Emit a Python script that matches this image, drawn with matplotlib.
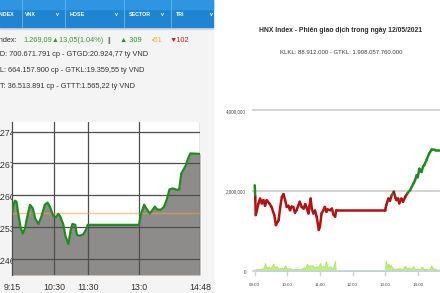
import matplotlib
matplotlib.use('Agg')
import matplotlib.pyplot as plt
from matplotlib import font_manager
from matplotlib.patches import Rectangle
from matplotlib.collections import LineCollection
import numpy as np

# ---- left chart: VN-Index intraday ----
vn_times = ["09:15", "09:17", "09:20", "09:23", "09:26", "09:30", "09:34", "09:38", "09:42", "09:47",
            "09:52", "09:56", "10:02", "10:07", "10:13", "10:18", "10:22", "10:28", "10:33", "10:37",
            "10:41", "10:46", "10:50", "10:55", "10:59", "11:02", "11:07", "11:10", "11:15", "11:21",
            "11:26", "11:29", "13:00", "13:03", "13:09", "13:13", "13:19", "13:24", "13:28", "13:32",
            "13:38", "13:44", "13:49", "13:54", "14:00", "14:07", "14:11", "14:15", "14:20", "14:23",
            "14:27", "14:31", "14:48"]
vn_vals = [1256.0, 1257.6, 1258.8, 1258.6, 1256.0, 1253.1, 1251.6, 1252.7, 1255.3, 1257.9,
           1257.1, 1254.9, 1253.7, 1255.3, 1257.9, 1258.4, 1257.5, 1255.5, 1255.2, 1255.9,
           1255.2, 1253.5, 1250.9, 1249.3, 1252.4, 1253.7, 1253.5, 1251.3, 1251.1, 1251.4,
           1252.4, 1253.5, 1253.5, 1255.7, 1257.9, 1257.1, 1256.0, 1256.8, 1257.5, 1256.9,
           1256.8, 1257.4, 1259.0, 1261.3, 1261.5, 1261.2, 1261.2, 1264.8, 1265.9, 1266.6,
           1268.1, 1269.2, 1269.09]
vn_ref = 1256.04
vn_yticks = [1246, 1253, 1260, 1267, 1274]
vn_xticks = ["09:15", "10:30", "11:30", "13:00", "14:48"]
vn_xlabels = ["9:15", "10:30", "11:30", "13:0", "14:48"]

# ---- right chart: HNX-Index intraday ----
hnx_times = ["09:00", "09:01", "09:02", "09:04", "09:07", "09:10", "09:13", "09:16", "09:19", "09:22",
             "09:27", "09:31", "09:36", "09:39", "09:42", "09:44", "09:47", "09:50", "09:53", "09:56",
             "09:59", "10:02", "10:05", "10:08", "10:11", "10:14", "10:17", "10:20", "10:23", "10:26",
             "10:30", "10:33", "10:35", "10:39", "10:41", "10:43", "10:45", "10:48", "10:51", "10:54",
             "10:58", "11:00", "11:03", "11:06", "11:09", "11:12", "11:14", "11:19", "11:22", "11:25",
             "11:28", "11:30", "13:00", "13:02", "13:06", "13:09", "13:12", "13:16", "13:19", "13:21",
             "13:24", "13:26", "13:30", "13:33", "13:37", "13:41", "13:46", "13:52", "13:55", "13:58",
             "14:00", "14:03", "14:07", "14:10", "14:12", "14:16", "14:21", "14:26", "14:32", "14:41"]
hnx_vals = [2.13, 1.84, 1.39, 1.51, 1.68, 1.80, 1.68, 1.76, 1.62, 1.76,
            1.68, 1.59, 1.39, 1.14, 1.22, 1.26, 1.59, 1.84, 1.91, 1.76,
            1.59, 1.62, 1.51, 1.60, 1.59, 1.45, 1.51, 1.62, 1.72, 1.60,
            1.55, 1.66, 1.59, 1.43, 1.62, 1.80, 1.55, 1.43, 1.50, 1.35,
            1.02, 1.10, 1.43, 1.50, 1.59, 1.47, 1.53, 1.51, 1.55, 1.40,
            1.35, 1.51, 1.51, 1.63, 1.80, 1.75, 1.88, 1.97, 1.82, 1.76,
            1.80, 1.68, 1.80, 1.72, 1.84, 1.93, 2.01, 2.17, 2.25, 2.38,
            2.33, 2.54, 2.46, 2.60, 2.63, 2.75, 2.92, 3.02, 3.01, 3.01]
hnx_ref = 1.90
vol_times = ["09:00", "09:12", "09:17", "09:19", "09:21", "09:25", "09:29", "09:34", "09:37", "09:40",
             "09:45", "09:50", "09:53", "09:56", "10:00", "10:05", "10:10", "10:17", "10:24", "10:30",
             "10:33", "10:36", "10:40", "10:45", "10:50", "10:54", "10:57", "11:00", "11:03", "11:06",
             "11:09", "11:11", "11:14", "11:19", "11:24", "11:28", "11:29", "13:00", "13:01", "13:04",
             "13:06", "13:08", "13:10", "13:14", "13:18", "13:22", "13:27", "13:32", "13:36", "13:40",
             "13:43", "13:46", "13:52", "13:55", "14:01", "14:04", "14:07", "14:12", "14:16", "14:21",
             "14:25", "14:29", "14:31", "14:36", "14:41"]
vol_vals = [40, 50, 90, 200, 80, 110, 60, 180, 90, 120,
            60, 80, 50, 140, 60, 70, 40, 50, 40, 90,
            70, 180, 120, 150, 90, 120, 80, 200, 90, 130,
            110, 250, 80, 120, 60, 260, 0, 0, 260, 100,
            190, 90, 150, 70, 40, 60, 70, 40, 130, 60,
            90, 50, 120, 40, 60, 30, 110, 40, 50, 30,
            140, 40, 60, 30, 40]
hnx_yticks = [0, 2000000, 4000000]
hnx_ylabels = ["0", "2,000,000", "4,000,000"]
hnx_xticks = ["09:00", "10:00", "11:00", "12:00", "13:00", "14:00"]

W, H = 440, 293
names = {f.name for f in font_manager.fontManager.ttflist}
NARROW = 'Liberation Sans Narrow' if 'Liberation Sans Narrow' in names else 'Liberation Sans'
FAM = [NARROW, 'DejaVu Sans']


def tmin(t, start):
    h, m = t.split(':')
    return int(h) * 60 + int(m) - start


fig = plt.figure(figsize=(W / 100, H / 100), dpi=100)
bg = fig.add_axes([0, 0, 1, 1])
bg.set_xlim(0, W)
bg.set_ylim(H, 0)
bg.axis('off')
rend = fig.canvas.get_renderer()


def twidth(s, **kw):
    t = bg.text(0, 0, s, **kw)
    w = t.get_window_extent(renderer=rend).width
    t.remove()
    return w


def fit(s, target, **kw):
    return 10 * target / twidth(s, fontsize=10, **kw)


# panels
bg.add_patch(Rectangle((0, 0), 213, H, color='#f4f4f4', zorder=0))
bg.add_patch(Rectangle((0, 27), 213, 2, color='#d9d9d9', zorder=1))
bg.add_patch(Rectangle((0, 0), 213, 27, color='#1f84d2', zorder=1))
bg.add_patch(Rectangle((0, 0), 213, 9, color='#2f95e0', zorder=1))
for sx in [22, 65, 124, 171]:
    bg.plot([sx, sx], [0, 27], color='#5aaee8', lw=0.8, zorder=2)

tab = dict(fontsize=fit("HOSE", 15, family=FAM, weight='bold'), family=FAM, weight='bold',
           color='white', va='center', ha='left', zorder=3)
bg.text(-twidth("VNI", **{k: tab[k] for k in ('fontsize', 'family', 'weight')}), 14, "VNINDEX", **tab)
bg.text(25, 14, "VNX", **tab)
bg.text(56, 14, "v", **tab)
bg.text(70, 14, "HOSE", **tab)
bg.text(115, 14, "v", **tab)
bg.text(129, 14, "SECTOR", **tab)
bg.text(161, 14, "v", **tab)
bg.text(176, 14, "TRI", **tab)
bg.text(210, 14, "v", **tab)

# info lines
fs = fit("D: 700.671.791 cp - GTGD:20.924,77 tỷ VND", 148, family=FAM)
info = [("KLG", "KLGD: 700.671.791 cp - GTGD:20.924,77 tỷ VND", 55),
        ("KLK", "KLKL: 664.157.900 cp - GTKL:19.359,55 tỷ VND", 71),
        ("KLT", "KLTT: 36.513.891 cp - GTTT:1.565,22 tỷ VND", 87)]
for pre, s, y in info:
    bg.text(-twidth(pre, fontsize=fs, family=FAM), y, s, fontsize=fs, family=FAM,
            color='#333333', va='center', zorder=3)
runs = [("VN-Index:", None, '#333333'),
        ("1.269,09▲13,05(1.04%)", 23, '#3c9a2c'),
        ("||", 107, '#555555'),
        ("▲ 309", 120, '#1f9a1f'),
        ("▪51", 152, '#efb030'),
        ("▼102", 170, '#e01b1b')]
for s, x, c in runs:
    if x is None:
        x = -twidth("VN-I", fontsize=fs, family=FAM)
    bg.text(x, 40, s, fontsize=fs, family=FAM, color=c, va='center', zorder=3)

# ---- left chart ----
ax1 = fig.add_axes([12 / W, 1 - 275 / H, 188 / W, (275 - 122) / H])
ax1.set_facecolor('white')
t1 = [tmin(t, 555) for t in vn_times]
ylo, yhi = 1242.48, 1276.1
ax1.set_xlim(0, 333)
ax1.set_ylim(ylo, yhi)
ax1.fill_between(t1, vn_vals, ylo, color='#8e8c8a', lw=0, zorder=1)
for v in vn_yticks:
    ax1.axhline(v, color='#4d4d4d', lw=0.9, zorder=2)
for t in vn_xticks[1:]:
    ax1.axvline(tmin(t, 555), color='#4d4d4d', lw=0.9, zorder=2)
ax1.axhline(vn_ref, color='#f0a040', alpha=0.6, lw=1.0, zorder=3)
ax1.plot(t1, vn_vals, color='#1e8c1e', lw=1.6, zorder=4, solid_joinstyle='round')
for s in ['top', 'right', 'bottom']:
    ax1.spines[s].set_visible(False)
ax1.spines['left'].set_color('#4d4d4d')
ax1.spines['left'].set_linewidth(0.9)
ax1.set_xticks([])
ax1.set_yticks([])

tfs = fit("14:48", 22, family=['Liberation Sans', 'DejaVu Sans'])
tk = dict(fontsize=tfs, family=['Liberation Sans', 'DejaVu Sans'], color='#333333')
for v in vn_yticks:
    ypx = 259 - (v - 1246) * 4.546
    s = str(v)
    bg.text(-twidth(s[0], **tk), ypx + 2, s, va='center', ha='left', zorder=5, **tk)
for t, lab in zip(vn_xticks, vn_xlabels):
    xpx = 12 + tmin(t, 555) * 188 / 333
    bg.text(xpx, 287, lab, va='center', ha='center', zorder=5, **tk)

# ---- right chart ----
bg.text(341, 30, "HNX Index - Phiên giao dịch trong ngày 12/05/2021",
        fontsize=fit("HNX Index - Phiên giao dịch trong ngày 12/05/2021", 162, family=FAM, weight='bold'),
        family=FAM, weight='bold', color='#2b2b2b', ha='center', va='center')
bg.text(341, 53, "KLKL: 88.912.000 - GTKL: 1.908.057.760.000",
        fontsize=fit("KLKL: 88.912.000 - GTKL: 1.908.057.760.000", 123, family=FAM),
        family=FAM, color='#3a3a3a', ha='center', va='center')

ax2 = fig.add_axes([253 / W, 1 - 271 / H, (W - 253) / W, (271 - 110) / H])
ax2.set_xlim(-1.7 / 32.6 * 60, 341)
ax2.set_ylim(0, 4000000)
ax2.axis('off')
for v in hnx_yticks[1:]:
    ax2.axhline(v, color='#cccccc', lw=1.2, zorder=1, clip_on=False)
tv = [tmin(t, 540) for t in vol_times]
vv = [v * 1000 for v in vol_vals]
ax2.fill_between(tv, vv, 0, color='#bdf27e', edgecolor='#a6e860', lw=0.6, zorder=2)
ax2.axhline(0, color='#c5d2e2', lw=1.2, zorder=3, clip_on=False)

th = np.array([tmin(t, 540) for t in hnx_times], dtype=float)
vh = np.array(hnx_vals) * 1000000
pts = np.column_stack([th, vh])
segs = np.stack([pts[:-1], pts[1:]], axis=1)
cols = ['#1f8a1f' if (a + b) / 2 > hnx_ref * 1000000 else '#b41010'
        for a, b in zip(vh[:-1], vh[1:])]
ax2.add_collection(LineCollection(segs, colors=cols, lw=1.8, zorder=4, capstyle='round',
                                  joinstyle='round'))

rfs = fit("4,000,000", 20, family=FAM)
for v, lab in zip(hnx_yticks, hnx_ylabels):
    ypx = 271 - v / 4000000 * 161
    bg.text(246, ypx + 1.5, lab, fontsize=rfs, family=FAM, color='#444444', ha='right', va='center')
xfs = fit("09:00", 11, family=FAM)
for t in hnx_xticks:
    xpx = 254.7 + tmin(t, 540) * 32.6 / 60
    bg.plot([xpx, xpx], [271, 275], color='#c5d2e2', lw=1.0, zorder=3)
    bg.text(xpx, 285, t, fontsize=xfs, family=FAM, color='#444444', ha='center', va='center')

fig.savefig('out.png', dpi=100)
